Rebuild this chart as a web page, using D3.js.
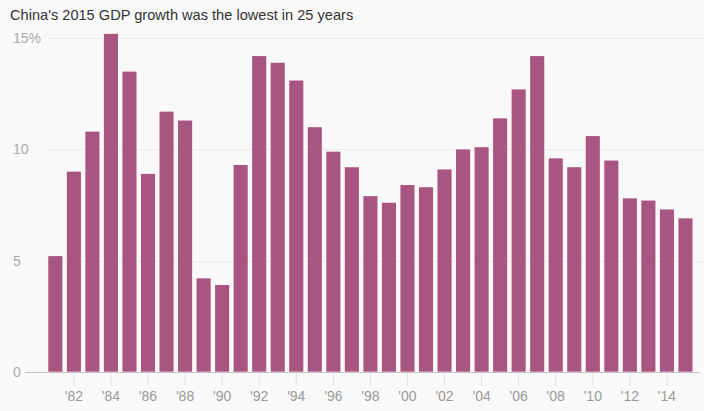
<!DOCTYPE html>
<html>
<head>
<meta charset="utf-8">
<script src="https://cdn.jsdelivr.net/npm/d3@7"></script>
<style>
  html, body { margin: 0; padding: 0; background: #f9f9f9; }
  svg { display: block; }
</style>
</head>
<body>
<svg id="chart" width="704" height="411"></svg>
<script>
const years = [1981,1982,1983,1984,1985,1986,1987,1988,1989,1990,1991,1992,1993,1994,1995,1996,1997,1998,1999,2000,2001,2002,2003,2004,2005,2006,2007,2008,2009,2010,2011,2012,2013,2014,2015];
const growth = [5.2,9.0,10.8,15.2,13.5,8.9,11.7,11.3,4.2,3.9,9.3,14.2,13.9,13.1,11.0,9.9,9.2,7.9,7.6,8.4,8.3,9.1,10.0,10.1,11.4,12.7,14.2,9.6,9.2,10.6,9.5,7.8,7.7,7.3,6.9];
const yTicks = [0, 5, 10, 15];
const xTickYears = [1982,1984,1986,1988,1990,1992,1994,1996,1998,2000,2002,2004,2006,2008,2010,2012,2014];
const title = "China's 2015 GDP growth was the lowest in 25 years";

const svg = d3.select("#chart");
const font = "'Liberation Sans', Arial, sans-serif";

const x = d3.scaleBand().domain(years).range([48.3, 692.5]).paddingInner(0.24).paddingOuter(0);
const y = d3.scaleLinear().domain([0, 15]).range([371.7, 38.3]);

svg.append("text")
  .attr("x", 10).attr("y", 20)
  .attr("font-family", font).attr("font-size", 14.6)
  .attr("fill", "#333")
  .text(title);

// gridlines
svg.append("g").selectAll("line").data(yTicks.filter(d => d > 0)).join("line")
  .attr("x1", 48).attr("x2", 704)
  .attr("y1", d => Math.round(y(d)) + 0.5).attr("y2", d => Math.round(y(d)) + 0.5)
  .attr("stroke", "#ececec").attr("stroke-width", 1);

// y labels
svg.append("g").selectAll("text").data(yTicks).join("text")
  .attr("x", 13).attr("y", d => y(d) + 5)
  .attr("font-family", font).attr("font-size", 14)
  .attr("fill", "#aaa")
  .text(d => d === 15 ? d + "%" : d);

// bars
svg.append("g").selectAll("rect").data(years).join("rect")
  .attr("x", d => x(d))
  .attr("width", x.bandwidth())
  .attr("y", (d, i) => y(growth[i]))
  .attr("height", (d, i) => y(0) - y(growth[i]))
  .attr("fill", "#a85582");

// baseline
svg.append("line")
  .attr("x1", 25).attr("x2", 700)
  .attr("y1", Math.round(y(0)) + 0.5).attr("y2", Math.round(y(0)) + 0.5)
  .attr("stroke", "#c4c4c4").attr("stroke-width", 1);

// x axis
const xAxis = d3.axisBottom(x)
  .tickValues(xTickYears)
  .tickSize(13)
  .tickPadding(5)
  .tickFormat(d => "'" + String(d).slice(2));
const gx = svg.append("g").attr("transform", `translate(0,${Math.round(y(0)) + 1})`).call(xAxis);
gx.select(".domain").remove();
gx.selectAll(".tick line").attr("stroke", "#e2e2e2");
gx.selectAll(".tick text").attr("font-family", font).attr("font-size", 14).attr("fill", "#999");
</script>
</body>
</html>
